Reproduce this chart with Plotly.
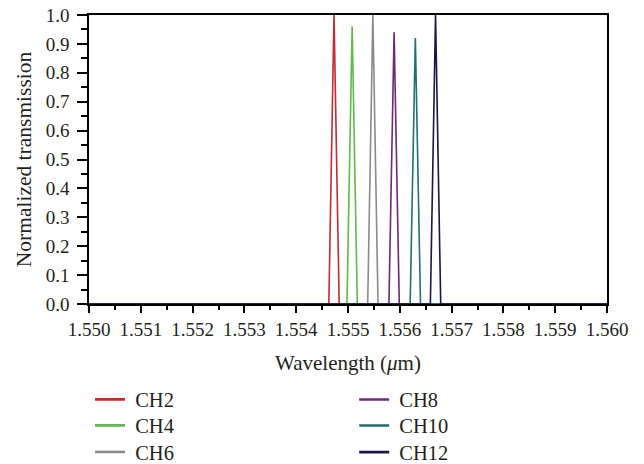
import plotly.graph_objects as go

channels = ["CH2", "CH4", "CH6", "CH8", "CH10", "CH12"]
centers = [1.55473, 1.55508, 1.55548, 1.55589, 1.55630, 1.55669]
peaks = [1.0, 0.96, 1.0, 0.94, 0.92, 1.0]
half_widths = [0.00010, 0.00010, 0.00010, 0.00010, 0.00010, 0.00010]
colors = ["#c42a2e", "#5dbb46", "#8a8a8a", "#6b2a72", "#1d716f", "#1b1448"]
x_min, x_max = 1.550, 1.560

# legend placement (paper coords): left column / right column
legend_x = [0.002, 0.002, 0.002, 0.512, 0.512, 0.512]
legend_y = [-0.3305, -0.4205, -0.5125, -0.331, -0.421, -0.513]

W, H = 644, 464
M = dict(l=89, r=37, t=15, b=160)

fig = go.Figure()
legend_layouts = {}
for i, (name, c, p, hw, col) in enumerate(zip(channels, centers, peaks, half_widths, colors)):
    xs = [x_min, c - hw, c, c + hw, x_max]
    ys = [0, 0, p, 0, 0]
    lname = "legend" if i == 0 else f"legend{i + 1}"
    fig.add_trace(go.Scatter(
        x=xs, y=ys, mode="lines", name=name,
        line=dict(color=col, width=1.6),
        showlegend=False,
    ))
    # legend entry with a thicker key line, as in the reference
    fig.add_trace(go.Scatter(
        x=[None], y=[None], mode="lines", name="\u2005" + name,
        line=dict(color=col, width=2.6),
        legend=lname, hoverinfo="skip",
    ))
    legend_layouts[lname] = dict(
        x=legend_x[i], y=legend_y[i], xanchor="left", yanchor="middle",
        bgcolor="rgba(0,0,0,0)", font=dict(size=20.5, color="#231f20"),
    )

font = "Liberation Serif, DejaVu Serif, serif"
fig.update_layout(
    width=W, height=H,
    margin=dict(**M, autoexpand=False),
    plot_bgcolor="white", paper_bgcolor="white",
    font=dict(family=font, size=19, color="#231f20"),
    showlegend=True,
    xaxis=dict(
        range=[x_min, x_max], dtick=0.001, tickformat=".3f",
        showgrid=False, zeroline=False,
        showline=True, linecolor="black", linewidth=1.5, mirror=True,
        ticks="outside", ticklen=7, tickwidth=2, tickcolor="black",
        minor=dict(dtick=0.0005, ticks="outside", ticklen=4, tickwidth=2, tickcolor="black"),
        title=dict(text="Wavelength (<i>μ</i>m)", font=dict(size=21), standoff=17),
        tickfont=dict(size=19),
    ),
    yaxis=dict(
        range=[0, 1.0], dtick=0.1, tickformat=".1f",
        showgrid=False, zeroline=False,
        showline=True, linecolor="black", linewidth=1.5, mirror=True,
        ticks="outside", ticklen=10, tickwidth=2, tickcolor="black",
        minor=dict(dtick=0.05, ticks="outside", ticklen=6, tickwidth=2, tickcolor="black"),
        title=dict(text="Normalized transmission", font=dict(size=21.5), standoff=8),
        tickfont=dict(size=19),
        ticklabelstandoff=4,
    ),
    **legend_layouts,
)

fig.write_html("out.html", config={"displayModeBar": False},
               post_script="document.body.style.margin='0';")
